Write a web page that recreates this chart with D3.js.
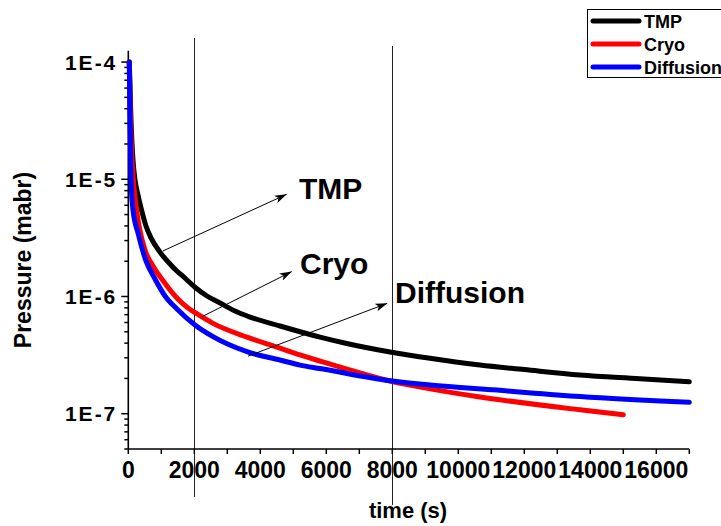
<!DOCTYPE html>
<html>
<head>
<meta charset="utf-8">
<script src="https://cdn.jsdelivr.net/npm/d3@7"></script>
<style>
  html, body { margin: 0; padding: 0; background: #fff; }
  svg { display: block; font-family: "Liberation Sans", Arial, sans-serif; font-weight: bold; }
</style>
</head>
<body>
<svg id="chart" width="721" height="526"></svg>
<script>
// ---------- data ----------
const seriesNames = ["TMP", "Cryo", "Diffusion"];
const seriesColors = ["#000000", "#ff0000", "#0000ff"];

const tmpTime = [30, 82, 142, 203, 294, 385, 536, 688, 961, 1355, 1748, 2021, 2385, 2779, 3233, 3688, 4597, 5809, 6618, 7930, 9142, 10655, 12000, 13688, 15500, 17000];
const tmpPressure = [1.0e-4, 3.2e-5, 1.46e-5, 9.9e-6, 7.35e-6, 5.7e-6, 4.0e-6, 3.16e-6, 2.39e-6, 1.78e-6, 1.41e-6, 1.2e-6, 1.01e-6, 8.8e-7, 7.52e-7, 6.68e-7, 5.6e-7, 4.5e-7, 3.97e-7, 3.36e-7, 2.97e-7, 2.6e-7, 2.38e-7, 2.14e-7, 1.99e-7, 1.87e-7];

const cryoTime = [30, 67, 142, 233, 339, 506, 748, 1082, 1445, 1779, 2052, 2567, 3597, 4597, 5203, 6627, 7930, 9142, 10655, 13688, 15000];
const cryoPressure = [1.0e-4, 3.2e-5, 1.09e-5, 6.0e-6, 3.83e-6, 2.49e-6, 1.82e-6, 1.33e-6, 9.9e-7, 8.1e-7, 7.2e-7, 5.9e-7, 4.5e-7, 3.63e-7, 3.17e-7, 2.4e-7, 1.9e-7, 1.63e-7, 1.39e-7, 1.08e-7, 9.8e-8];

const diffTime = [30, 52, 82, 142, 294, 536, 809, 1112, 1476, 2021, 2567, 3597, 4597, 5203, 5809, 7930, 9142, 11170, 13688, 17000];
const diffPressure = [1.0e-4, 3.2e-5, 9.9e-6, 5.47e-6, 3.48e-6, 2.01e-6, 1.41e-6, 1.01e-6, 7.82e-7, 5.71e-7, 4.54e-7, 3.38e-7, 2.87e-7, 2.6e-7, 2.43e-7, 1.91e-7, 1.76e-7, 1.59e-7, 1.4e-7, 1.25e-7];

const xTickValues = [0, 2000, 4000, 6000, 8000, 10000, 12000, 14000, 16000];
const yTickValues = [1e-7, 1e-6, 1e-5, 1e-4];
const yTickLabels = ["1E-7", "1E-6", "1E-5", "1E-4"];
const markerTimes = [2000, 8000];

// annotations: label, arrow start (t,p), arrow tip (t,p), text anchor (t,p)
const annLabels = ["TMP", "Cryo", "Diffusion"];
const annStart = [[1042, 2.44e-6], [2224, 6.71e-7], [3627, 3.1e-7]];
const annTip = [[4800, 7.45e-6], [4952, 1.63e-6], [7848, 8.75e-7]];
const annText = [[5173, 6.8e-6], [5203, 1.56e-6], [8082, 8.75e-7]];

// ---------- layout ----------
const svg = d3.select("#chart");
const x = d3.scaleLinear().domain([0, 17000]).range([128.3, 689.3]);
const y = d3.scaleLog().domain([5e-8, 1.25e-4]).range([449, 50.7]);

// vertical marker lines
const markerExt = [[38, 497], [46, 505]];
svg.selectAll("line.marker").data(markerTimes).enter().append("line")
  .attr("class", "marker")
  .attr("x1", d => Math.round(x(d)) + 0.5).attr("x2", d => Math.round(x(d)) + 0.5)
  .attr("y1", (d, i) => markerExt[i][0]).attr("y2", (d, i) => markerExt[i][1])
  .attr("stroke", "#222").attr("stroke-width", 1);

// y axis
const yMinor = [];
for (let e = -8; e <= -4; e++) for (let m = 1; m <= 9; m++) {
  const v = m * Math.pow(10, e);
  if (v >= 5e-8 && v <= 1.25e-4) yMinor.push(v);
}
const yAxisG = svg.append("g").attr("transform", "translate(128.3,0)");
yAxisG.append("line").attr("y1", 50.7).attr("y2", 449).attr("stroke", "#000").attr("stroke-width", 1.6);
yAxisG.selectAll("line.minor").data(yMinor).enter().append("line")
  .attr("x1", d => yTickValues.some(t => Math.abs(t - d) / d < 1e-6) ? -7 : -4).attr("x2", 0)
  .attr("y1", d => y(d)).attr("y2", d => y(d))
  .attr("stroke", "#000").attr("stroke-width", 1.5);
yAxisG.selectAll("text").data(yTickValues).enter().append("text")
  .attr("x", -11).attr("y", d => y(d) + 7.5)
  .attr("text-anchor", "end").attr("font-size", 21).attr("letter-spacing", 2)
  .text((d, i) => yTickLabels[i]);

// x axis
const xAxisG = svg.append("g").attr("transform", "translate(0,449)");
xAxisG.append("line").attr("x1", 128.3).attr("x2", 689.3).attr("stroke", "#000").attr("stroke-width", 1.6);
xAxisG.selectAll("line.tick").data(d3.range(0, 17001, 1000)).enter().append("line")
  .attr("x1", d => x(d)).attr("x2", d => x(d)).attr("y1", 0).attr("y2", 5)
  .attr("stroke", "#000").attr("stroke-width", 1.5);
xAxisG.selectAll("text").data(xTickValues).enter().append("text")
  .attr("x", d => x(d)).attr("y", 29)
  .attr("text-anchor", "middle").attr("font-size", 23)
  .text(d => String(d));

// axis titles
svg.append("text").attr("x", 408).attr("y", 518).attr("text-anchor", "middle")
  .attr("font-size", 22).text("time (s)");
svg.append("text").attr("transform", "translate(31,260) rotate(-90)").attr("text-anchor", "middle")
  .attr("font-size", 23).text("Pressure (mabr)");

// curves
const seriesData = [
  tmpTime.map((t, i) => [t, tmpPressure[i]]),
  cryoTime.map((t, i) => [t, cryoPressure[i]]),
  diffTime.map((t, i) => [t, diffPressure[i]])
];
const line = d3.line().x(d => x(d[0])).y(d => y(d[1])).curve(d3.curveMonotoneX);
svg.selectAll("path.series").data(seriesData).enter().append("path")
  .attr("class", "series")
  .attr("d", line).attr("fill", "none")
  .attr("stroke", (d, i) => seriesColors[i]).attr("stroke-width", 5)
  .attr("stroke-linejoin", "round").attr("stroke-linecap", "round");

// arrows
const defs = svg.append("defs");
defs.append("marker").attr("id", "arrow").attr("viewBox", "0 0 12 8")
  .attr("refX", 12).attr("refY", 4).attr("markerWidth", 12).attr("markerHeight", 8)
  .attr("markerUnits", "userSpaceOnUse").attr("orient", "auto")
  .append("path").attr("d", "M0,0 L12,4 L0,8 L3,4 Z").attr("fill", "#000");
svg.selectAll("line.ann").data(annLabels).enter().append("line")
  .attr("x1", (d, i) => x(annStart[i][0])).attr("y1", (d, i) => y(annStart[i][1]))
  .attr("x2", (d, i) => x(annTip[i][0])).attr("y2", (d, i) => y(annTip[i][1]))
  .attr("stroke", "#000").attr("stroke-width", 1).attr("marker-end", "url(#arrow)");
svg.selectAll("text.ann").data(annLabels).enter().append("text")
  .attr("x", (d, i) => x(annText[i][0])).attr("y", (d, i) => y(annText[i][1]))
  .attr("font-size", 30).text(d => d);

// legend
const lg = svg.append("g");
lg.append("rect").attr("x", 587.5).attr("y", 9.5).attr("width", 140).attr("height", 68)
  .attr("fill", "#fff").attr("stroke", "#000").attr("stroke-width", 1);
const legY = [21, 44, 67];
seriesNames.forEach((n, i) => {
  lg.append("line").attr("x1", 593).attr("x2", 639).attr("y1", legY[i]).attr("y2", legY[i])
    .attr("stroke", seriesColors[i]).attr("stroke-width", 5).attr("stroke-linecap", "round");
  lg.append("text").attr("x", 644).attr("y", legY[i] + 6.5).attr("font-size", 18).text(n);
});
</script>
</body>
</html>
